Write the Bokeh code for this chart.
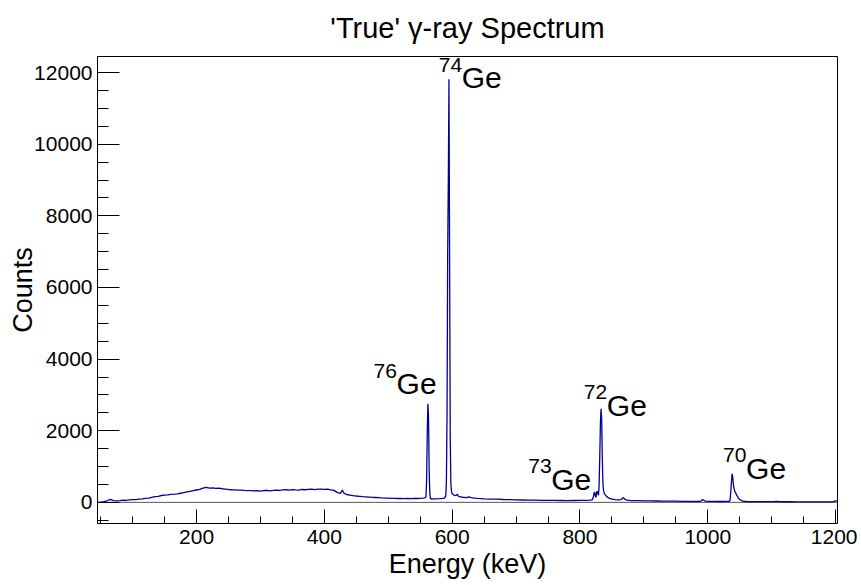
from bokeh.plotting import figure
from bokeh.models import SingleIntervalTicker, ColumnDataSource
from bokeh.core.properties import value
from bokeh.embed import file_html
from bokeh.resources import INLINE

# ---- data: gamma-ray spectrum ----
energy_kev = [45, 50, 55, 60, 65, 70, 75, 80, 85, 90, 95, 100, 105, 110, 115, 120, 125, 130, 135, 140,
              145, 150, 155, 160, 165, 170, 175, 180, 185, 190, 195, 200, 205, 210, 215, 220, 225, 230, 235, 240,
              245, 250, 255, 260, 265, 270, 275, 280, 285, 290, 295, 300, 305, 310, 315, 320, 325, 330, 335, 340,
              345, 350, 355, 360, 365, 370, 375, 380, 385, 390, 395, 400, 405, 410, 415, 420, 425, 428, 431, 435,
              440, 445, 450, 455, 460, 465, 470, 475, 480, 485, 490, 495, 500, 505, 510, 515, 520, 525, 530, 535,
              540, 545, 550, 555, 558, 559, 560, 561, 562, 563, 564, 565, 566, 568, 570, 575, 580, 585, 588, 590,
              591, 592, 593, 594, 595, 596, 597, 598, 599, 600, 603, 606, 608, 610, 614, 618, 622, 626, 630, 635,
              640, 650, 660, 670, 680, 690, 700, 710, 720, 730, 740, 750, 760, 770, 780, 790, 800, 810, 815, 819,
              821, 822, 823, 824, 825, 826, 827, 828, 829, 830, 831, 832, 833, 834, 835, 836, 837, 838, 840, 842,
              845, 850, 855, 860, 864, 866, 868, 870, 873, 880, 890, 900, 910, 920, 930, 940, 950, 960, 970, 980,
              988, 990, 992, 994, 996, 1000, 1010, 1020, 1030, 1034, 1035, 1036, 1037, 1038, 1039, 1040, 1041, 1042, 1044, 1046,
              1048, 1050, 1053, 1056, 1060, 1070, 1080, 1090, 1100, 1105, 1108, 1111, 1120, 1130, 1140, 1150, 1160, 1170, 1180, 1190,
              1196, 1200, 1203]
counts = [0, 5, 20, 45, 85, 50, 40, 50, 62, 58, 70, 78, 74, 90, 96, 110, 118, 140, 158, 170,
          192, 205, 210, 226, 232, 240, 255, 270, 290, 310, 330, 345, 360, 395, 420, 400, 405, 392, 398, 380,
          372, 360, 352, 350, 340, 344, 336, 330, 326, 320, 328, 316, 330, 338, 322, 336, 342, 336, 348, 352,
          340, 354, 348, 344, 360, 352, 364, 370, 356, 368, 372, 362, 370, 350, 336, 280, 250, 340, 250, 220,
          205, 190, 178, 170, 162, 155, 148, 140, 136, 132, 124, 120, 116, 112, 114, 108, 112, 106, 110, 104,
          112, 108, 114, 120, 130, 160, 600, 1900, 2755, 2400, 900, 250, 110, 90, 100, 96, 102, 110, 120, 180,
          600, 2500, 7000, 9000, 11815, 6800, 1800, 500, 300, 240, 200, 190, 230, 170, 150, 140, 130, 150, 135, 120,
          112, 100, 92, 88, 80, 76, 70, 66, 62, 60, 58, 56, 54, 52, 50, 52, 54, 55, 60, 70,
          150, 260, 290, 180, 140, 270, 310, 250, 200, 500, 1300, 2200, 2615, 2300, 1200, 500, 320, 250, 200, 160,
          120, 90, 75, 70, 75, 110, 135, 90, 60, 50, 46, 42, 40, 38, 36, 34, 32, 30, 30, 28,
          30, 45, 80, 60, 32, 28, 26, 25, 26, 30, 80, 300, 560, 800, 720, 500, 400, 320, 250, 180,
          120, 80, 50, 30, 24, 22, 20, 20, 22, 24, 30, 22, 18, 18, 16, 16, 15, 15, 14, 14,
          20, 40, 40]

# peak labels (isotope mass numbers) and their anchor points
label_mass = ["74", "76", "72", "73", "70"]
label_energy = [579, 477, 806, 719, 1024]
label_counts = [11862, 3313, 2707, 642, 949]

x_range = (45, 1203)
y_range = (-590, 12450)

FONT = "Liberation Sans"

p = figure(frame_width=740, frame_height=467, x_range=x_range, y_range=y_range,
           output_backend="svg", toolbar_location=None,
           min_border_left=97, min_border_right=20, min_border_top=56, min_border_bottom=54)

p.title.text = "'True' \u03b3-ray Spectrum"
p.title.text_font = FONT
p.title.text_font_size = "29px"
p.title.text_font_style = "normal"
p.title.text_color = "black"
p.title.align = "center"
p.title.vertical_align = "top"
p.title.standoff = 21

p.background_fill_color = "white"
p.border_fill_color = "white"
p.outline_line_color = "black"
p.outline_line_width = 1
p.xgrid.visible = False
p.ygrid.visible = False

# zero line
p.line(x=list(x_range), y=[0, 0], line_color="#555555", line_width=1)

# spectrum
p.line(x=energy_kev, y=counts, line_color="#00009c", line_width=1.3)

# peak labels
src = ColumnDataSource(dict(x=label_energy, y=label_counts, sup=label_mass,
                            ge=["Ge"] * len(label_mass)))
p.text(x="x", y="y", text="sup", source=src, text_font=value(FONT), text_font_size="21px",
       text_baseline="alphabetic", text_align="left", y_offset=-13, text_color="black")
p.text(x="x", y="y", text="ge", source=src, text_font=value(FONT), text_font_size="30px",
       text_baseline="alphabetic", text_align="left", x_offset=23, text_color="black")

# axes
p.xaxis.ticker = SingleIntervalTicker(interval=200, num_minor_ticks=4)
p.yaxis.ticker = SingleIntervalTicker(interval=2000, num_minor_ticks=4)
for ax in (p.xaxis, p.yaxis):
    ax.axis_line_color = "black"
    ax.major_tick_line_color = "black"
    ax.minor_tick_line_color = "black"
    ax.major_tick_out = 0
    ax.minor_tick_out = 0
    ax.major_label_text_font = FONT
    ax.major_label_text_font_size = "21px"
    ax.major_label_text_color = "black"
    ax.axis_label_text_font = FONT
    ax.axis_label_text_font_size = "27px"
    ax.axis_label_text_font_style = "normal"
    ax.axis_label_text_color = "black"

p.xaxis.major_tick_in = 14
p.xaxis.minor_tick_in = 7
p.yaxis.major_tick_in = 22
p.yaxis.minor_tick_in = 11
p.xaxis.major_label_standoff = 6
p.yaxis.major_label_standoff = 5
p.xaxis.axis_label = "Energy (keV)"
p.yaxis.axis_label = "Counts"
p.xaxis.axis_label_standoff = 2
p.yaxis.axis_label_standoff = -7

open("out.html", "w").write(file_html(p, INLINE))
